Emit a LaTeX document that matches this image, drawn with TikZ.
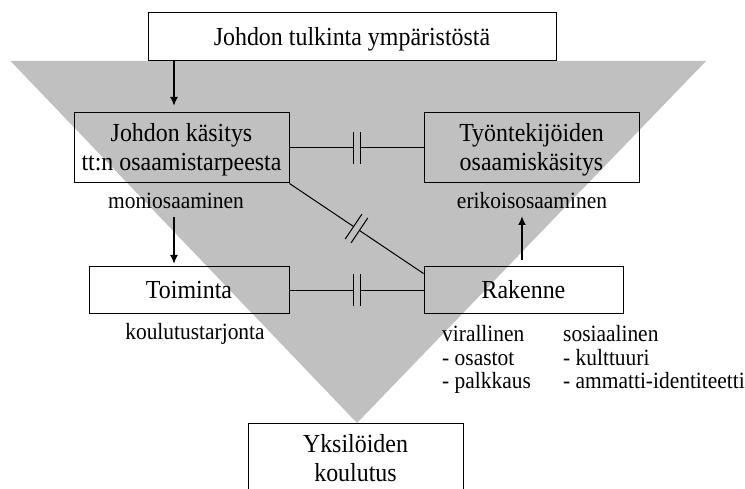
\documentclass[tikz,border=0pt]{standalone}
\usepackage{fontspec}
\setmainfont[FakeStretch=0.92]{Liberation Serif}
\usetikzlibrary{calc,arrows.meta}
\definecolor{funnel}{RGB}{192,192,192}
\begin{document}
\begin{tikzpicture}[x=1pt,y=-1pt,
  box/.style={draw, line width=1pt, inner sep=0pt, align=center,
              text height=17pt, text depth=0pt,
              font=\fontsize{26}{29}\selectfont},
  twoline/.style={text height=46pt},
  lbl/.style={inner sep=0pt, anchor=base, font=\fontsize{23.3}{23.5}\selectfont},
  arr/.style={line width=1.8pt, -{Latex[length=9pt,width=8pt]}},
  link/.style={line width=1pt}]
\useasboundingbox (0,0) rectangle (745,489);
\clip (0,0) rectangle (745,489);

% grey funnel behind everything
\fill[funnel] (10.5,61) -- (706,61) -- (357,423) -- cycle;

% boxes
\node[box, minimum width=408pt, minimum height=48pt] (top) at (352,37) {Johdon tulkinta ympäristöstä};
\node[box, twoline, minimum width=215pt, minimum height=70pt] (k) at (181.5,148) {Johdon käsitys\\tt:n osaamistarpeesta};
\node[box, twoline, minimum width=215pt, minimum height=70pt] (t) at (531.5,148) {Työntekijöiden\\osaamiskäsitys};
\node[box, minimum width=200pt, minimum height=47pt] (toim) at (189,290.5) {Toiminta};
\node[box, minimum width=199pt, minimum height=47pt] (rak) at (523.5,290.5) {Rakenne};
\node[box, twoline, minimum width=215pt, minimum height=70pt] (yks) at (355.5,458) {Yksilöiden\\koulutus};

% side labels
\node[lbl] (mon) at (176,209) {moniosaaminen};
\node[lbl] (eri) at (532,209) {erikoisosaaminen};
\node[lbl] (kou) at (195,340) {koulutustarjonta};
\node[lbl, anchor=base west] (rakl) at (442,341.5) {%
  \begin{tabular}[t]{@{}p{121pt}@{}l@{}}
  virallinen & sosiaalinen\\
  - osastot  & - kulttuuri\\
  - palkkaus & - ammatti-identiteetti
  \end{tabular}};

% arrows
\coordinate (a1) at (174,106);
\coordinate (a2s) at (174,217);
\coordinate (a2) at (174,264);
\coordinate (a3s) at (522,260);
\coordinate (a3) at (522,216);
\draw[arr] (top.south -| a1) -- (a1);
\draw[arr] (a2s) -- (a2);
\draw[arr] (a3s) -- (a3);

% broken links, marked with a double bar at the middle
\coordinate (dStart) at (k.south east);
\coordinate (dEnd) at ([yshift=-7pt]rak.north west);
\foreach \a/\b/\h in {k.east/t.west/16pt, toim.east/rak.west/16pt, dStart/dEnd/15pt}{
  \coordinate (mid) at ($(\a)!0.5!(\b)$);
  \coordinate (g1) at ($(mid)!3.5pt!(\a)$);
  \coordinate (g2) at ($(mid)!3.5pt!(\b)$);
  \draw[link] (\a) -- (g1);
  \draw[link] (g2) -- (\b);
  \draw[link] ($(g1)!\h!90:(\a)$) -- ($(g1)!\h!-90:(\a)$);
  \draw[link] ($(g2)!\h!90:(\b)$) -- ($(g2)!\h!-90:(\b)$);
}
\end{tikzpicture}
\end{document}
